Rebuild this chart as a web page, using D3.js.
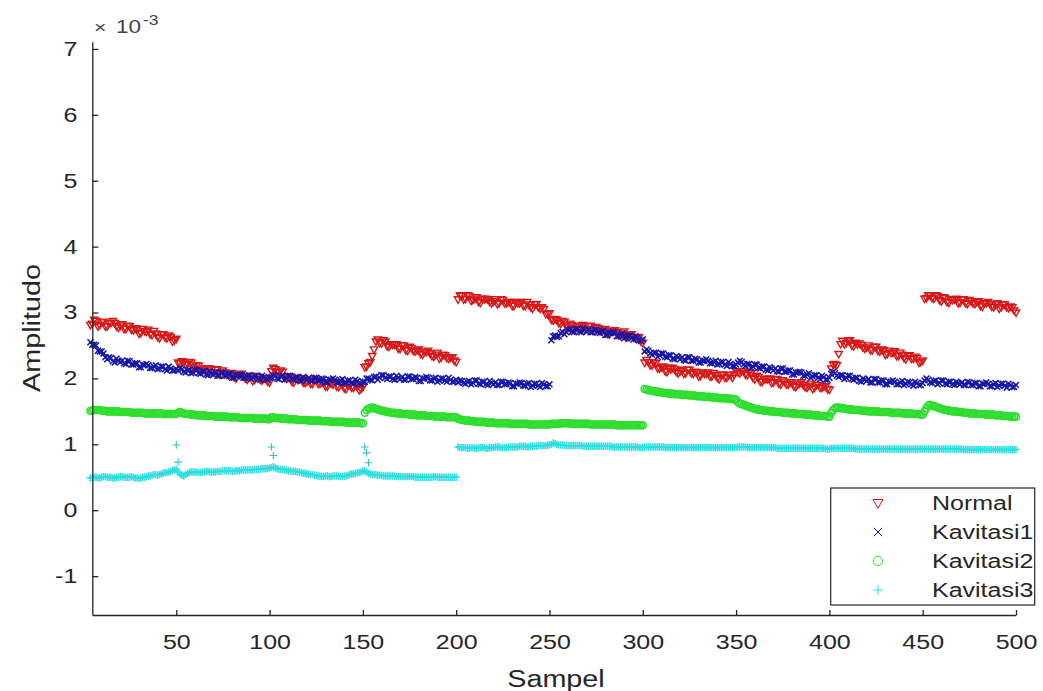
<!DOCTYPE html>
<html><head><meta charset="utf-8">
<script src="https://cdn.jsdelivr.net/npm/d3@7"></script>
<style>
html,body{margin:0;padding:0;background:#fff;}
svg{display:block;font-family:"Liberation Sans",Arial,sans-serif;}
</style></head>
<body><svg id="chart" width="1043" height="691"></svg>
<script>
// Sample indices
const samplesOdd = d3.range(1, 500, 2);   // 1,3,...,499
const samplesEven = d3.range(2, 501, 2);  // 2,4,...,500

// Amplitudo values (x 10^-3) (including the visible noise)
const normalOdd = [
2.81,2.86,2.83,2.87,2.81,2.86,2.79,2.84,2.84,2.77,2.82,2.75,2.79,2.73,2.75,2.69,2.72,2.74,2.66,2.68,2.61,2.67,2.61,2.63,2.58,
2.24,2.26,2.21,2.25,2.17,2.20,2.12,2.15,2.15,2.09,2.13,2.07,2.12,2.06,2.07,2.02,2.05,2.07,2.00,2.02,1.96,2.02,1.98,2.00,1.95,
2.11,2.14,2.09,2.10,2.00,2.03,1.94,1.98,1.98,1.93,1.98,1.92,1.97,1.92,1.94,1.88,1.92,1.94,1.87,1.90,1.84,1.90,1.86,1.88,1.84,
2.17,2.23,2.34,2.56,2.54,2.58,2.49,2.52,2.51,2.45,2.50,2.43,2.48,2.42,2.43,2.37,2.40,2.42,2.34,2.36,2.30,2.36,2.31,2.32,2.27,
3.20,3.25,3.21,3.25,3.19,3.23,3.15,3.20,3.20,3.14,3.20,3.14,3.19,3.14,3.16,3.10,3.14,3.16,3.10,3.12,3.06,3.13,3.06,3.05,2.98,
2.89,2.90,2.84,2.87,2.79,2.83,2.75,2.79,2.80,2.74,2.79,2.73,2.78,2.72,2.74,2.68,2.71,2.73,2.66,2.68,2.62,2.67,2.62,2.63,2.56,
2.24,2.25,2.20,2.23,2.15,2.18,2.10,2.14,2.14,2.08,2.13,2.08,2.13,2.07,2.09,2.04,2.07,2.09,2.03,2.05,1.99,2.06,2.01,2.05,2.06,
2.09,2.11,2.06,2.09,2.01,2.04,1.95,1.99,1.99,1.93,1.98,1.92,1.97,1.91,1.94,1.88,1.91,1.94,1.87,1.89,1.84,1.90,1.86,1.88,1.84,
2.15,2.22,2.37,2.57,2.54,2.58,2.49,2.52,2.51,2.45,2.50,2.43,2.48,2.41,2.43,2.37,2.39,2.41,2.34,2.36,2.29,2.35,2.30,2.31,2.25,
3.21,3.26,3.22,3.26,3.19,3.23,3.16,3.20,3.20,3.14,3.20,3.14,3.19,3.14,3.16,3.10,3.14,3.16,3.09,3.12,3.06,3.12,3.08,3.09,3.03];
const normalEven = [
2.87,2.81,2.89,2.79,2.85,2.79,2.84,2.87,2.79,2.80,2.75,2.80,2.74,2.76,2.68,2.75,2.71,2.67,2.72,2.63,2.67,2.62,2.65,2.56,2.60,
2.23,2.25,2.22,2.24,2.15,2.19,2.11,2.15,2.15,2.09,2.14,2.06,2.09,2.05,2.08,2.00,2.05,2.03,1.98,2.04,1.98,2.02,1.97,2.00,1.94,
2.16,2.10,2.12,2.01,2.02,1.95,2.00,2.00,1.94,1.95,1.92,1.98,1.92,1.94,1.88,1.94,1.91,1.88,1.93,1.85,1.90,1.86,1.90,1.82,1.87,
2.18,2.25,2.44,2.59,2.53,2.56,2.48,2.51,2.52,2.45,2.50,2.42,2.46,2.41,2.44,2.36,2.40,2.38,2.33,2.39,2.32,2.35,2.30,2.32,2.25,
3.26,3.20,3.26,3.18,3.21,3.16,3.21,3.21,3.16,3.17,3.13,3.20,3.14,3.16,3.10,3.16,3.14,3.10,3.16,3.08,3.12,3.08,3.08,2.98,2.99,
2.88,2.89,2.83,2.86,2.77,2.81,2.75,2.79,2.81,2.75,2.80,2.72,2.76,2.72,2.75,2.67,2.72,2.70,2.65,2.71,2.63,2.67,2.61,2.62,2.54,
2.28,2.20,2.24,2.15,2.17,2.11,2.16,2.16,2.10,2.11,2.07,2.13,2.08,2.10,2.03,2.09,2.07,2.03,2.08,2.01,2.05,2.01,2.05,2.01,2.11,
2.08,2.11,2.05,2.08,1.99,2.02,1.95,1.99,2.00,1.94,1.99,1.91,1.95,1.91,1.94,1.87,1.92,1.90,1.86,1.92,1.86,1.90,1.86,1.88,1.83,
2.21,2.20,2.52,2.52,2.57,2.50,2.54,2.53,2.47,2.47,2.43,2.48,2.42,2.44,2.36,2.42,2.39,2.34,2.39,2.31,2.34,2.30,2.33,2.24,2.27,
3.22,3.26,3.21,3.25,3.17,3.22,3.15,3.19,3.21,3.15,3.20,3.13,3.17,3.13,3.17,3.09,3.14,3.13,3.08,3.14,3.08,3.12,3.07,3.08,3.00];

const kavitasi1Odd = [
2.62,2.61,2.51,2.50,2.41,2.38,2.29,2.31,2.24,2.27,2.27,2.22,2.26,2.21,2.23,2.17,2.20,2.20,2.16,2.20,2.15,2.18,2.12,2.15,2.12,
2.12,2.14,2.09,2.13,2.09,2.13,2.07,2.11,2.05,2.08,2.09,2.04,2.09,2.04,2.07,2.01,2.05,2.05,2.01,2.05,2.01,2.04,1.98,2.02,1.98,
2.02,2.04,1.99,2.04,2.00,2.04,1.98,2.02,1.96,2.00,2.01,1.96,2.01,1.97,1.99,1.94,1.98,1.98,1.94,1.99,1.94,1.97,1.92,1.96,1.92,
1.95,2.00,1.97,2.03,2.01,2.05,1.99,2.03,1.98,2.01,2.02,1.98,2.03,1.99,2.01,1.96,2.00,2.01,1.97,2.01,1.97,2.00,1.95,1.98,1.95,
1.94,1.96,1.92,1.96,1.93,1.97,1.91,1.95,1.90,1.93,1.94,1.90,1.95,1.91,1.93,1.88,1.92,1.93,1.89,1.93,1.89,1.92,1.87,1.91,1.88,
2.58,2.65,2.64,2.71,2.70,2.75,2.70,2.75,2.70,2.74,2.74,2.70,2.74,2.69,2.72,2.66,2.69,2.69,2.64,2.68,2.63,2.65,2.59,2.62,2.57,
2.41,2.42,2.36,2.39,2.35,2.38,2.32,2.35,2.29,2.32,2.32,2.27,2.32,2.27,2.29,2.24,2.27,2.27,2.23,2.27,2.22,2.25,2.19,2.22,2.19,
2.24,2.25,2.19,2.22,2.18,2.21,2.15,2.18,2.12,2.15,2.15,2.10,2.15,2.10,2.12,2.06,2.09,2.09,2.04,2.08,2.03,2.05,1.99,2.02,1.98,
2.07,2.08,2.02,2.05,2.01,2.04,1.98,2.01,1.95,1.98,1.99,1.94,1.99,1.94,1.97,1.91,1.95,1.95,1.91,1.96,1.92,1.94,1.89,1.93,1.90,
1.97,1.98,1.93,1.97,1.93,1.97,1.91,1.95,1.90,1.93,1.94,1.90,1.94,1.90,1.93,1.88,1.92,1.92,1.88,1.93,1.89,1.92,1.86,1.90,1.87];
const kavitasi1Even = [
2.64,2.55,2.51,2.42,2.41,2.32,2.32,2.26,2.30,2.25,2.23,2.27,2.21,2.23,2.17,2.21,2.22,2.16,2.18,2.14,2.18,2.14,2.18,2.12,2.14,
2.15,2.10,2.12,2.08,2.13,2.08,2.11,2.06,2.11,2.06,2.04,2.09,2.04,2.07,2.01,2.05,2.06,2.01,2.03,1.99,2.04,2.00,2.04,1.99,2.01,
2.05,2.00,2.03,1.98,2.04,1.99,2.02,1.98,2.02,1.98,1.97,2.01,1.97,2.00,1.94,1.98,2.00,1.94,1.97,1.93,1.97,1.94,1.98,1.93,1.95,
2.00,1.98,2.02,1.98,2.05,2.01,2.03,1.99,2.04,1.99,1.98,2.03,1.99,2.02,1.96,2.00,2.02,1.97,2.00,1.95,2.00,1.97,2.01,1.95,1.98,
1.97,1.93,1.95,1.91,1.97,1.92,1.95,1.91,1.96,1.91,1.90,1.95,1.91,1.94,1.88,1.92,1.94,1.89,1.92,1.87,1.92,1.89,1.93,1.88,1.91,
2.64,2.63,2.69,2.67,2.74,2.71,2.75,2.71,2.76,2.71,2.70,2.74,2.70,2.72,2.66,2.69,2.70,2.64,2.66,2.61,2.65,2.61,2.64,2.58,2.59,
2.44,2.38,2.39,2.33,2.38,2.33,2.35,2.30,2.34,2.29,2.28,2.32,2.27,2.30,2.24,2.27,2.29,2.23,2.25,2.21,2.25,2.21,2.25,2.19,2.21,
2.27,2.21,2.22,2.16,2.21,2.16,2.18,2.13,2.17,2.12,2.11,2.15,2.10,2.12,2.06,2.09,2.10,2.04,2.06,2.01,2.05,2.01,2.04,1.98,2.01,
2.10,2.04,2.05,1.99,2.04,1.99,2.01,1.96,2.00,1.96,1.94,1.99,1.94,1.97,1.91,1.95,1.97,1.91,1.94,1.90,1.95,1.91,1.95,1.90,1.93,
2.00,1.94,1.96,1.91,1.97,1.92,1.95,1.91,1.95,1.91,1.90,1.95,1.90,1.93,1.88,1.92,1.94,1.88,1.91,1.87,1.92,1.89,1.92,1.87,1.90];

const kavitasi2Odd = [
1.50,1.51,1.51,1.52,1.52,1.51,1.50,1.50,1.50,1.50,1.49,1.49,1.49,1.48,1.48,1.48,1.47,1.47,1.47,1.47,1.47,1.46,1.46,1.46,1.46,
1.48,1.48,1.46,1.46,1.45,1.44,1.44,1.44,1.43,1.43,1.42,1.42,1.42,1.42,1.41,1.41,1.41,1.40,1.40,1.40,1.40,1.39,1.39,1.39,1.38,
1.41,1.40,1.40,1.39,1.39,1.38,1.38,1.37,1.37,1.37,1.36,1.36,1.36,1.36,1.35,1.35,1.34,1.34,1.34,1.34,1.33,1.33,1.33,1.33,1.32,
1.48,1.54,1.56,1.54,1.52,1.51,1.49,1.48,1.48,1.47,1.46,1.46,1.45,1.45,1.44,1.44,1.44,1.43,1.43,1.42,1.42,1.42,1.41,1.41,1.41,
1.39,1.37,1.36,1.36,1.35,1.34,1.34,1.34,1.33,1.33,1.32,1.32,1.32,1.32,1.31,1.31,1.31,1.31,1.31,1.30,1.30,1.30,1.30,1.30,1.30,
1.31,1.31,1.31,1.32,1.32,1.32,1.31,1.31,1.31,1.31,1.31,1.30,1.30,1.30,1.30,1.30,1.30,1.30,1.29,1.29,1.29,1.29,1.29,1.29,1.29,
1.84,1.82,1.81,1.80,1.79,1.78,1.78,1.77,1.76,1.76,1.75,1.75,1.74,1.74,1.73,1.73,1.72,1.72,1.71,1.71,1.70,1.70,1.70,1.69,1.68,
1.64,1.61,1.59,1.57,1.55,1.53,1.52,1.51,1.51,1.50,1.49,1.49,1.48,1.48,1.47,1.47,1.46,1.46,1.45,1.45,1.44,1.44,1.43,1.43,1.42,
1.48,1.55,1.56,1.55,1.54,1.53,1.52,1.52,1.51,1.51,1.50,1.50,1.50,1.49,1.49,1.49,1.48,1.48,1.48,1.47,1.47,1.47,1.46,1.46,1.45,
1.50,1.59,1.59,1.57,1.55,1.53,1.52,1.51,1.50,1.49,1.49,1.48,1.47,1.47,1.46,1.46,1.46,1.45,1.45,1.44,1.44,1.43,1.43,1.42,1.42];
const kavitasi2Even = [
1.50,1.51,1.52,1.52,1.51,1.51,1.50,1.50,1.50,1.49,1.49,1.49,1.48,1.48,1.48,1.48,1.47,1.47,1.47,1.47,1.47,1.46,1.46,1.46,1.46,
1.49,1.47,1.46,1.45,1.45,1.44,1.44,1.43,1.43,1.43,1.42,1.42,1.42,1.41,1.41,1.41,1.40,1.40,1.40,1.40,1.39,1.39,1.39,1.39,1.38,
1.41,1.40,1.39,1.39,1.38,1.38,1.38,1.37,1.37,1.37,1.36,1.36,1.36,1.35,1.35,1.35,1.34,1.34,1.34,1.34,1.33,1.33,1.33,1.33,1.32,
1.52,1.55,1.55,1.53,1.51,1.50,1.49,1.48,1.47,1.47,1.46,1.46,1.45,1.45,1.44,1.44,1.43,1.43,1.43,1.42,1.42,1.42,1.41,1.41,1.41,
1.38,1.37,1.36,1.35,1.35,1.34,1.34,1.33,1.33,1.33,1.32,1.32,1.32,1.32,1.31,1.31,1.31,1.31,1.31,1.30,1.30,1.30,1.30,1.30,1.30,
1.31,1.31,1.32,1.32,1.32,1.31,1.31,1.31,1.31,1.31,1.30,1.30,1.30,1.30,1.30,1.30,1.30,1.29,1.29,1.29,1.29,1.29,1.29,1.29,1.29,
1.83,1.82,1.81,1.80,1.79,1.78,1.77,1.77,1.76,1.76,1.75,1.75,1.74,1.74,1.73,1.73,1.72,1.72,1.71,1.71,1.70,1.70,1.69,1.69,1.68,
1.62,1.60,1.58,1.56,1.54,1.53,1.52,1.51,1.50,1.50,1.49,1.49,1.48,1.48,1.47,1.47,1.46,1.46,1.45,1.45,1.44,1.44,1.43,1.43,1.42,
1.52,1.56,1.55,1.54,1.53,1.53,1.52,1.52,1.51,1.51,1.50,1.50,1.50,1.49,1.49,1.49,1.48,1.48,1.48,1.47,1.47,1.47,1.46,1.46,1.45,
1.55,1.60,1.58,1.56,1.54,1.52,1.51,1.50,1.50,1.49,1.48,1.48,1.47,1.47,1.46,1.46,1.45,1.45,1.45,1.44,1.44,1.43,1.43,1.42,1.42];

const kavitasi3Odd = [
0.49,0.48,0.50,0.50,0.49,0.51,0.50,0.50,0.49,0.50,0.51,0.50,0.50,0.50,0.49,0.49,0.50,0.52,0.53,0.54,0.54,0.56,0.57,0.59,0.61,
0.58,0.53,0.54,0.57,0.58,0.58,0.57,0.58,0.59,0.58,0.58,0.59,0.60,0.60,0.60,0.59,0.60,0.61,0.61,0.61,0.61,0.62,0.62,0.63,0.63,
0.65,0.64,0.62,0.62,0.61,0.60,0.59,0.58,0.57,0.56,0.55,0.54,0.53,0.52,0.51,0.52,0.51,0.52,0.52,0.51,0.52,0.54,0.55,0.57,0.58,
0.60,0.56,0.54,0.54,0.53,0.52,0.52,0.52,0.52,0.51,0.51,0.51,0.51,0.51,0.50,0.50,0.50,0.50,0.50,0.51,0.50,0.50,0.50,0.50,0.50,
0.96,0.95,0.95,0.94,0.95,0.94,0.95,0.95,0.94,0.95,0.96,0.96,0.95,0.95,0.96,0.96,0.96,0.97,0.97,0.96,0.97,0.97,0.98,0.98,0.99,
1.00,1.01,0.99,0.99,0.98,0.98,0.98,0.98,0.98,0.97,0.97,0.97,0.97,0.97,0.97,0.97,0.97,0.96,0.96,0.96,0.96,0.96,0.96,0.96,0.95,
0.96,0.96,0.96,0.96,0.96,0.96,0.95,0.95,0.95,0.95,0.95,0.95,0.95,0.95,0.95,0.95,0.95,0.95,0.95,0.95,0.95,0.95,0.95,0.95,0.95,
0.96,0.96,0.96,0.95,0.95,0.95,0.95,0.95,0.95,0.95,0.95,0.94,0.94,0.94,0.94,0.94,0.94,0.94,0.94,0.94,0.94,0.94,0.94,0.94,0.93,
0.94,0.94,0.94,0.94,0.94,0.94,0.94,0.93,0.93,0.93,0.93,0.93,0.93,0.93,0.93,0.93,0.93,0.93,0.93,0.93,0.93,0.93,0.93,0.93,0.93,
0.93,0.93,0.93,0.93,0.93,0.93,0.93,0.93,0.93,0.93,0.93,0.92,0.92,0.92,0.92,0.92,0.92,0.92,0.92,0.92,0.92,0.92,0.92,0.92,0.92];
const kavitasi3Even = [
0.48,0.49,0.50,0.49,0.50,0.51,0.50,0.49,0.50,0.51,0.50,0.50,0.51,0.49,0.48,0.50,0.51,0.52,0.54,0.53,0.55,0.57,0.58,0.60,0.62,
0.55,0.52,0.56,0.58,0.58,0.57,0.58,0.59,0.58,0.58,0.59,0.59,0.60,0.60,0.59,0.60,0.60,0.61,0.61,0.61,0.62,0.62,0.63,0.63,0.64,
0.66,0.63,0.62,0.61,0.60,0.59,0.59,0.58,0.56,0.55,0.54,0.53,0.52,0.51,0.52,0.51,0.52,0.52,0.51,0.52,0.53,0.55,0.56,0.57,0.59,
0.58,0.55,0.54,0.53,0.53,0.52,0.52,0.52,0.51,0.51,0.51,0.51,0.51,0.50,0.50,0.50,0.50,0.50,0.51,0.50,0.50,0.50,0.50,0.50,0.50,
0.95,0.95,0.94,0.95,0.94,0.95,0.95,0.94,0.95,0.95,0.96,0.95,0.95,0.96,0.96,0.96,0.97,0.97,0.96,0.97,0.97,0.98,0.98,0.98,0.99,
1.02,1.00,0.99,0.98,0.98,0.98,0.98,0.98,0.97,0.97,0.97,0.97,0.97,0.97,0.97,0.97,0.96,0.96,0.96,0.96,0.96,0.96,0.96,0.95,0.95,
0.96,0.96,0.96,0.96,0.96,0.95,0.95,0.95,0.95,0.95,0.95,0.95,0.95,0.95,0.95,0.95,0.95,0.95,0.95,0.95,0.95,0.95,0.95,0.95,0.95,
0.96,0.96,0.95,0.95,0.95,0.95,0.95,0.95,0.95,0.95,0.94,0.94,0.94,0.94,0.94,0.94,0.94,0.94,0.94,0.94,0.94,0.94,0.94,0.93,0.93,
0.94,0.94,0.94,0.94,0.94,0.94,0.93,0.93,0.93,0.93,0.93,0.93,0.93,0.93,0.93,0.93,0.93,0.93,0.93,0.93,0.93,0.93,0.93,0.93,0.93,
0.93,0.93,0.93,0.93,0.93,0.93,0.93,0.93,0.93,0.93,0.92,0.92,0.92,0.92,0.92,0.92,0.92,0.92,0.92,0.92,0.92,0.92,0.92,0.92,0.92];

// Isolated Kavitasi3 samples standing above the band
const kav3SpikeX = [50, 51, 101, 102, 151, 152, 153];
const kav3SpikeY = [0.99, 0.73, 0.96, 0.83, 0.96, 0.87, 0.72];

const seriesNames = ["Normal", "Kavitasi1", "Kavitasi2", "Kavitasi3"];
const xTicks = [50, 100, 150, 200, 250, 300, 350, 400, 450, 500];
const yTicks = [-1, 0, 1, 2, 3, 4, 5, 6, 7];

// ---------- drawing ----------
const svg = d3.select("#chart");
const ink = "#262626";
const colors = ["#d81818", "#1616a8", "#2ede2e", "#2edede"];
const SX = 1.25; // horizontal text stretch seen in the picture

const x = d3.scaleLinear().domain([5, 500]).range([92.3, 1016]);
const y = d3.scaleLinear().domain([-1.59, 7.11]).range([615, 41.7]);

function markerPath(kind, s) {
  if (kind === 0) return `M${-s},${-s*0.7}L${s},${-s*0.7}L0,${s*1.05}Z`;
  if (kind === 1) return `M${-s*0.85},${-s*0.85}L${s*0.85},${s*0.85}M${-s*0.85},${s*0.85}L${s*0.85},${-s*0.85}`;
  if (kind === 2) return `M${s},0A${s},${s} 0 1,1 ${-s},0A${s},${s} 0 1,1 ${s},0Z`;
  return `M${-s},0L${s},0M0,${-s}L0,${s}`;
}
const sizes = [3.7, 3.5, 3.5, 3.7];
const widths = [1.4, 1.5, 1.6, 1.5];

function merge(odd, even) {
  const out = [];
  samplesOdd.forEach((s, i) => out.push({s, v: odd[i]}));
  samplesEven.forEach((s, i) => out.push({s, v: even[i]}));
  return out.sort((a, b) => a.s - b.s);
}
const data = [
  merge(normalOdd, normalEven),
  merge(kavitasi1Odd, kavitasi1Even),
  merge(kavitasi2Odd, kavitasi2Even),
  merge(kavitasi3Odd, kavitasi3Even)
];
const plot = svg.append("g");
data.forEach((pts, k) => {
  plot.append("g").selectAll("path").data(pts.filter(d => d.s >= 4)).join("path")
    .attr("transform", d => `translate(${x(d.s)},${y(d.v)})`)
    .attr("d", markerPath(k, sizes[k]))
    .attr("fill", "none").attr("stroke", colors[k]).attr("stroke-width", widths[k]);
});
plot.append("g").selectAll("path").data(kav3SpikeX.map((s, i) => ({s, v: kav3SpikeY[i]}))).join("path")
  .attr("transform", d => `translate(${x(d.s)},${y(d.v)})`)
  .attr("d", markerPath(3, 3.8))
  .attr("fill", "none").attr("stroke", "#35c0c8").attr("stroke-width", 1.1);

// axes
const fs = 20;
const xAxis = svg.append("g").attr("transform", "translate(0,615)")
  .call(d3.axisBottom(x).tickValues(xTicks).tickSizeInner(-5).tickSizeOuter(0).tickPadding(20));
const yAxis = svg.append("g").attr("transform", "translate(92.3,0)")
  .call(d3.axisLeft(y).tickValues(yTicks).tickSizeInner(-6).tickSizeOuter(0).tickPadding(12).tickFormat(d3.format("d")));
[xAxis, yAxis].forEach(a => {
  a.select(".domain").attr("stroke", ink).attr("stroke-width", 1.3);
  a.selectAll(".tick line").attr("stroke", ink).attr("stroke-width", 1.3);
  a.selectAll(".tick text").attr("fill", ink).attr("font-size", fs)
    .attr("font-family", '"Liberation Sans",Arial,sans-serif')
    .attr("transform", `scale(${SX},1)`);
});
yAxis.selectAll(".tick text").text(d => d < 0 ? "-" + Math.abs(d) : d);

// exponent label
const expG = svg.append("g").attr("fill", "#444");
expG.append("text").attr("transform", `translate(94,33) scale(${SX},1)`).attr("font-size", 17).text("\u00d7");
expG.append("text").attr("transform", `translate(116,33) scale(${SX},1)`).attr("font-size", 18).text("10");
expG.append("text").attr("transform", `translate(143,25) scale(${SX},1)`).attr("font-size", 14).text("-3");

// axis labels
svg.append("text").attr("transform", `translate(556,687) scale(${SX},1)`)
  .attr("text-anchor", "middle").attr("font-size", 23).attr("fill", ink).text("Sampel");
svg.append("text").attr("transform", `translate(40,328) rotate(-90) scale(${SX},1)`)
  .attr("text-anchor", "middle").attr("font-size", 23).attr("fill", ink).text("Amplitudo");

// legend
const lg = svg.append("g");
lg.append("rect").attr("x", 830.7).attr("y", 488).attr("width", 204).attr("height", 117)
  .attr("fill", "#fff").attr("stroke", ink).attr("stroke-width", 1.2);
seriesNames.forEach((n, k) => {
  const cy = 503 + k * 29;
  lg.append("path").attr("transform", `translate(878,${cy})`).attr("d", markerPath(k, k === 2 ? 4.5 : 5))
    .attr("fill", "none").attr("stroke", colors[k]).attr("stroke-width", 1);
  lg.append("text").attr("transform", `translate(932,${cy + 7}) scale(${SX},1)`)
    .attr("font-size", fs).attr("fill", ink).text(n);
});
</script></body></html>
